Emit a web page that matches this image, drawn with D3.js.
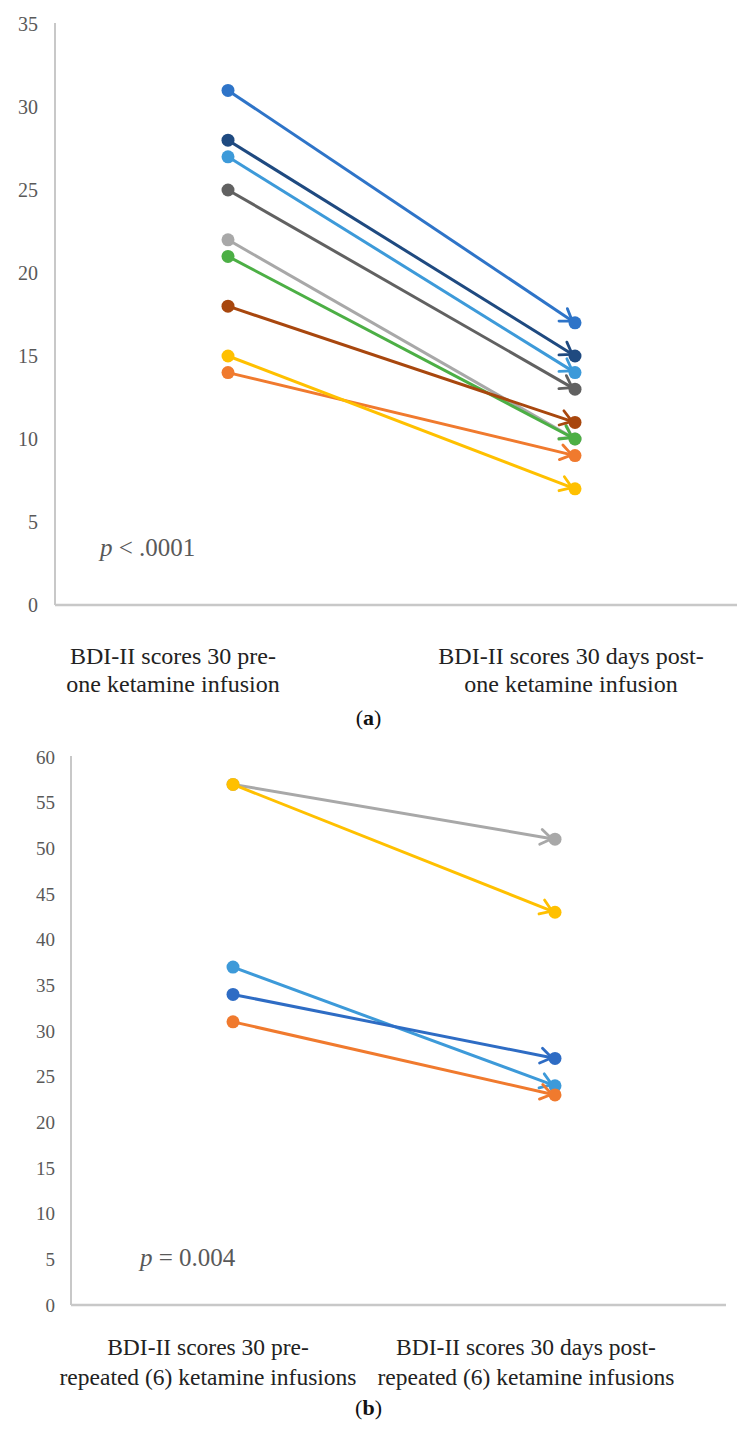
<!DOCTYPE html>
<html>
<head>
<meta charset="utf-8">
<script src="https://cdn.jsdelivr.net/npm/d3@7"></script>
<style>
  body { margin: 0; background: #fff; }
  text { font-family: "Liberation Serif", "Times New Roman", serif; }
</style>
</head>
<body>
<div id="chart"></div>
<script>
// ---- data ----
var topCategories = ["pre", "post"]
var topLabels = [["BDI-II scores 30 pre-", "one ketamine infusion"],
                 ["BDI-II scores 30 days post-", "one ketamine infusion"]]
var topPre  = [27, 14, 22, 15, 31, 21, 28, 18, 25]
var topPost = [14,  9, 10,  7, 17, 10, 15, 11, 13]
var topTicks = [0, 5, 10, 15, 20, 25, 30, 35]

var botCategories = ["pre", "post"]
var botLabels = [["BDI-II scores 30 pre-", "repeated (6) ketamine infusions"],
                 ["BDI-II scores 30 days post-", "repeated (6) ketamine infusions"]]
var botPre  = [37, 31, 57, 57, 34]
var botPost = [24, 23, 51, 43, 27]
var botTicks = [0, 5, 10, 15, 20, 25, 30, 35, 40, 45, 50, 55, 60]

// office palette, in series order
var topColors = ["#3D9AD9", "#F07A2E", "#A8A8A8", "#FFC000", "#2E74C8", "#4CAF45", "#1F4A80", "#A8470E", "#616161"]
var botColors = ["#3D9AD9", "#F07A2E", "#A8A8A8", "#FFC000", "#2E6CC4"]

var W = 737, H = 1430
var svg = d3.select("#chart").append("svg")
    .attr("width", W).attr("height", H)
svg.append("rect").attr("width", W).attr("height", H).style("fill", "#fff")

var defs = svg.append("defs")
var allColors = Array.from(new Set(topColors.concat(botColors)))
allColors.forEach(function(c){
  defs.append("marker")
    .attr("id", "arr" + c.slice(1))
    .attr("markerUnits", "userSpaceOnUse")
    .attr("viewBox", "-14 -10 16 20")
    .attr("refX", 0).attr("refY", 0)
    .attr("markerWidth", 16).attr("markerHeight", 20)
    .attr("orient", "auto")
    .append("path")
    .attr("d", "M-11,-7.5 L0,0 L-11,7.5")
    .style("fill", "none").style("stroke", c).style("stroke-width", 2.8)
    .style("stroke-linecap", "round").style("stroke-linejoin", "round")
})

function drawPanel(o){
  var g = svg.append("g")
  var x = d3.scalePoint().domain(o.categories).range(o.xRange)
  var y = d3.scaleLinear().domain(o.yDomain).range(o.yRange)

  // axes
  var ax = g.append("g").attr("transform", "translate(" + o.axisX + ",0)")
    .call(d3.axisLeft(y).tickValues(o.ticks).tickSize(0).tickPadding(o.tickPad))
  ax.select(".domain").remove()
  ax.selectAll("text")
    .style("font-family", "Liberation Serif").style("font-size", o.tickFont + "px")
    .style("fill", "#595959")
  g.append("line")
    .attr("x1", o.axisX).attr("x2", o.axisX)
    .attr("y1", y(o.yDomain[1]) - 1).attr("y2", y(0))
    .style("stroke", "#c8c8c8").style("stroke-width", 2)
  g.append("line")
    .attr("x1", o.axisX).attr("x2", o.axisEnd)
    .attr("y1", y(0)).attr("y2", y(0))
    .style("stroke", "#c8c8c8").style("stroke-width", 2.5)

  // series
  o.pre.forEach(function(v, i){
    var c = o.colors[i]
    var x1 = x(o.categories[0]), y1 = y(v)
    var x2 = x(o.categories[1]), y2 = y(o.post[i])
    var dx = x2 - x1, dy = y2 - y1, len = Math.sqrt(dx*dx + dy*dy)
    var back = o.r * 0.5
    var s = g.append("g")
    s.append("path")
      .attr("d", d3.line()([[x1, y1], [x2 - dx/len*back, y2 - dy/len*back]]))
      .style("stroke", c).style("stroke-width", 3).style("fill", "none")
      .attr("marker-end", "url(#arr" + c.slice(1) + ")")
    s.append("circle").attr("cx", x1).attr("cy", y1).attr("r", o.r).style("fill", c)
    s.append("circle").attr("cx", x2).attr("cy", y2).attr("r", o.r).style("fill", c)
  })

  // category labels
  o.labels.forEach(function(lines, i){
    var t = g.append("text")
      .attr("x", o.labelX[i]).attr("y", o.labelY)
      .attr("text-anchor", "middle")
      .style("font-size", o.labelFont + "px").style("fill", "#222")
    lines.forEach(function(l, k){
      t.append("tspan").attr("x", o.labelX[i]).attr("dy", k === 0 ? 0 : o.lineH).text(l)
    })
  })

  // p value
  var p = g.append("text").attr("x", o.pX).attr("y", o.pY)
    .style("font-size", "25px").style("fill", "#595959")
  p.append("tspan").style("font-style", "italic").text("p")
  p.append("tspan").text(o.pText)

  // panel tag
  var tg = svg.append("text").attr("x", W/2).attr("y", o.tagY)
    .attr("text-anchor", "middle").style("font-size", "22px").style("fill", "#111")
  tg.append("tspan").text("(")
  tg.append("tspan").style("font-weight", "bold").text(o.tag)
  tg.append("tspan").text(")")
}

drawPanel({
  categories: topCategories, labels: topLabels, pre: topPre, post: topPost, colors: topColors,
  ticks: topTicks, yDomain: [0, 35], yRange: [605, 24], xRange: [228, 575],
  axisX: 55, axisEnd: 737, tickPad: 17, tickFont: 20, r: 6.5,
  labelX: [173, 571], labelY: 664, labelFont: 24, lineH: 28,
  pX: 100, pY: 556, pText: " < .0001", tag: "a", tagY: 725
})

drawPanel({
  categories: botCategories, labels: botLabels, pre: botPre, post: botPost, colors: botColors,
  ticks: botTicks, yDomain: [0, 60], yRange: [1305, 757], xRange: [233, 555],
  axisX: 71, axisEnd: 726, tickPad: 16, tickFont: 19, r: 6.5,
  labelX: [208, 526], labelY: 1355, labelFont: 23.5, lineH: 30,
  pX: 140, pY: 1266, pText: " = 0.004", tag: "b", tagY: 1415
})
</script>
</body>
</html>
